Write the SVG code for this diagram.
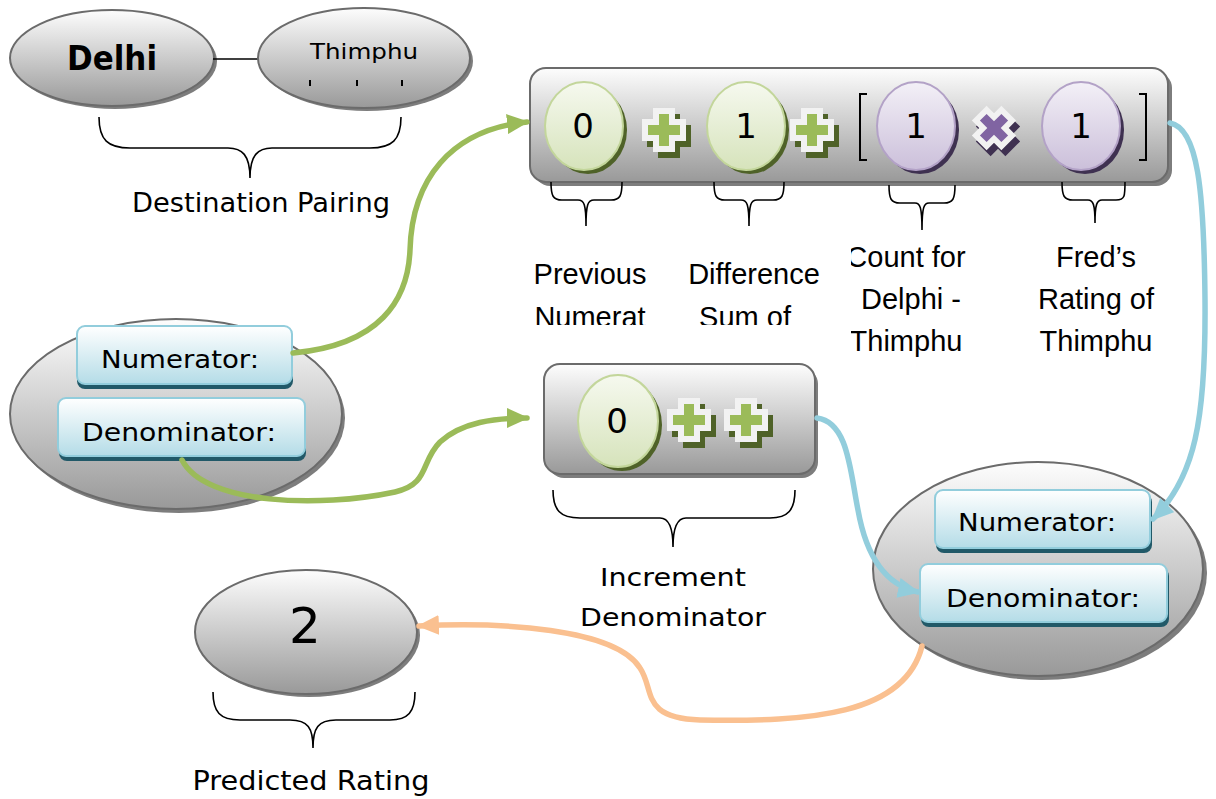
<svg xmlns="http://www.w3.org/2000/svg" width="1216" height="799" viewBox="0 0 1216 799">
<defs>
<linearGradient id="gGray" x1="0" y1="0" x2="0" y2="1"><stop offset="0" stop-color="#fdfdfd"/><stop offset="1" stop-color="#999999"/></linearGradient>
<linearGradient id="gBlue" x1="0" y1="0" x2="0" y2="1"><stop offset="0" stop-color="#ffffff"/><stop offset="1" stop-color="#b4dce7"/></linearGradient>
<linearGradient id="gGreen" x1="0" y1="0" x2="0" y2="1"><stop offset="0" stop-color="#f6f9ef"/><stop offset="1" stop-color="#d6e3bb"/></linearGradient>
<linearGradient id="gPurple" x1="0" y1="0" x2="0" y2="1"><stop offset="0" stop-color="#f3f0f7"/><stop offset="1" stop-color="#cbbfda"/></linearGradient>
<marker id="aGreen" viewBox="0 0 22 20" markerWidth="22" markerHeight="20" refX="20" refY="10" orient="auto" markerUnits="userSpaceOnUse"><path d="M0,0 L22,10 L0,20 z" fill="#9bbb59"/></marker>
<marker id="aBlue" viewBox="0 0 22 20" markerWidth="22" markerHeight="20" refX="20" refY="10" orient="auto" markerUnits="userSpaceOnUse"><path d="M0,0 L22,10 L0,20 z" fill="#92cddc"/></marker>
<marker id="aOrange" viewBox="0 0 22 20" markerWidth="22" markerHeight="20" refX="20" refY="10" orient="auto" markerUnits="userSpaceOnUse"><path d="M0,0 L22,10 L0,20 z" fill="#fac090"/></marker>
<polygon id="plusOuter" points="-11,-22 11,-22 11,-11 22,-11 22,11 11,11 11,22 -11,22 -11,11 -22,11 -22,-11 -11,-11"/>
<polygon id="plusInner" points="-5,-16 5,-16 5,-5 16,-5 16,5 5,5 5,16 -5,16 -5,5 -16,5 -16,-5 -5,-5"/>
<g id="plusG">
<use href="#plusOuter" fill="#4f6228" transform="translate(5,6)"/>
<use href="#plusOuter" fill="#f2f2f2"/>
<use href="#plusInner" fill="#9bbb59"/>
</g>
<g id="timesP">
<use href="#plusOuter" fill="#3f3151" transform="translate(4,6) rotate(45) scale(0.95)"/>
<use href="#plusOuter" fill="#f2f2f2" transform="rotate(45) scale(0.95)"/>
<use href="#plusInner" fill="#8064a2" transform="rotate(45) scale(0.95)"/>
</g>
<clipPath id="clipBottom"><rect x="0" y="0" width="1216" height="325"/></clipPath>
<clipPath id="clipLeft"><rect x="851" y="0" width="365" height="799"/></clipPath>
</defs>
<style>
.gray{fill:url(#gGray);stroke:#6b6b6b;stroke-width:2}
.gshadow{fill:#7d7d7d}
.blue{fill:url(#gBlue);stroke:#92cddc;stroke-width:2}
.bshadow{fill:#215968}
.green{fill:url(#gGreen);stroke:#c3d69b;stroke-width:2}
.greenS{fill:#4f6228}
.purple{fill:url(#gPurple);stroke:#b3a2c7;stroke-width:2}
.purpleS{fill:#3f3151}
.brace{fill:none;stroke:#000;stroke-width:1.6}
.t{font-family:"DejaVu Sans","Liberation Sans",sans-serif;fill:#000;text-anchor:middle}
.n{font-family:"Liberation Sans Narrow","Liberation Sans",sans-serif;fill:#000;text-anchor:middle;font-size:29px}
.num{font-family:"DejaVu Sans","Liberation Sans",sans-serif;fill:#000;text-anchor:middle;font-size:34px}
.conn{fill:none;stroke-width:5.5;stroke-linecap:round}
</style>

<g id="delhi">
<ellipse cx="115" cy="61" rx="102" ry="48" class="gshadow"/>
<ellipse cx="112" cy="58" rx="102" ry="48" class="gray"/>
<text x="112" y="70" class="t" font-size="33" font-weight="bold" textLength="90" lengthAdjust="spacingAndGlyphs">Delhi</text>
</g>
<line x1="213" y1="59" x2="259" y2="59" stroke="#000" stroke-width="1.6"/>
<g id="thimphu">
<ellipse cx="367" cy="61" rx="106" ry="50" class="gshadow"/>
<ellipse cx="364" cy="58" rx="106" ry="50" class="gray"/>
<text x="364" y="59" class="t" font-size="22" textLength="108" lengthAdjust="spacingAndGlyphs">Thimphu</text>
<g stroke="#000" stroke-width="2"><line x1="310" y1="80" x2="310" y2="86"/><line x1="357" y1="80" x2="357" y2="86"/><line x1="402" y1="80" x2="402" y2="86"/></g>
</g>
<g id="destPairing">
<path class="brace" d="M99,117 C99,140 108,148 130,148 L228,148 C242,148 250,155 250,178 C250,155 258,148 272,148 L370,148 C392,148 401,140 401,117"/>
<text x="261" y="212" class="t" font-size="26" textLength="258" lengthAdjust="spacingAndGlyphs">Destination Pairing</text>
</g>

<g id="numeratorBox">
<rect x="534" y="72" width="638" height="114" rx="16" class="gshadow"/>
<rect x="530" y="68" width="638" height="114" rx="16" class="gray"/>
<ellipse cx="588" cy="130" rx="39" ry="44" class="greenS"/>
<ellipse cx="584" cy="126" rx="39" ry="44" class="green"/>
<text x="583" y="138" class="num">0</text>
<use href="#plusG" x="664" y="130"/>
<ellipse cx="750" cy="130" rx="39" ry="44" class="greenS"/>
<ellipse cx="746" cy="126" rx="39" ry="44" class="green"/>
<text x="746" y="138" class="num">1</text>
<use href="#plusG" x="812" y="130"/>
<path d="M867,94 L860,94 L860,160 L867,160" fill="none" stroke="#000" stroke-width="2"/>
<ellipse cx="920" cy="130" rx="39" ry="44" class="purpleS"/>
<ellipse cx="916" cy="126" rx="39" ry="44" class="purple"/>
<text x="916" y="138" class="num">1</text>
<use href="#timesP" x="994" y="128"/>
<ellipse cx="1085" cy="130" rx="39" ry="44" class="purpleS"/>
<ellipse cx="1081" cy="126" rx="39" ry="44" class="purple"/>
<text x="1081" y="138" class="num">1</text>
<path d="M1139,94 L1146,94 L1146,160 L1139,160" fill="none" stroke="#000" stroke-width="2"/>
</g>

<g id="topLabels">
<path class="brace" d="M551,182 C551,196 553,200 562,200 L578,200 C584,200 586,204 586,226 C586,204 588,200 594,200 L611,200 C620,200 622,196 622,182"/>
<path class="brace" d="M714,182 C714,196 716,200 725,200 L741,200 C747,200 749,204 749,226 C749,204 751,200 757,200 L773,200 C782,200 784,196 784,182"/>
<path class="brace" d="M889,185 C889,199 891,203 900,203 L915,203 C920,203 922,207 922,230 C922,207 924,203 929,203 L944,203 C953,203 955,199 955,185"/>
<path class="brace" d="M1062,182 C1062,196 1064,200 1073,200 L1088,200 C1093,200 1095,204 1095,223 C1095,204 1097,200 1102,200 L1116,200 C1125,200 1125,196 1125,182"/>
<text x="590" y="284" class="n">Previous</text>
<text x="590" y="327" class="n" clip-path="url(#clipBottom)">Numerat</text>
<text x="754" y="284" class="n">Difference</text>
<text x="745" y="327" class="n" clip-path="url(#clipBottom)">Sum of</text>
<g clip-path="url(#clipLeft)">
<text x="906" y="267" class="n">Count for</text>
<text x="906" y="351" class="n">Thimphu</text>
</g>
<text x="911" y="309" class="n">Delphi -</text>
<text x="1096" y="267" class="n">Fred’s</text>
<text x="1096" y="309" class="n">Rating of</text>
<text x="1096" y="351" class="n">Thimphu</text>
</g>

<g id="sourceNode">
<ellipse cx="179" cy="418" rx="166" ry="95" class="gshadow"/>
<ellipse cx="176" cy="414" rx="166" ry="95" class="gray"/>
<rect x="77" y="330" width="216" height="59" rx="8" class="bshadow"/>
<rect x="77" y="326" width="215" height="58" rx="8" class="blue"/>
<text x="180" y="368" class="t" font-size="24" textLength="158" lengthAdjust="spacingAndGlyphs">Numerator:</text>
<rect x="59" y="402" width="247" height="59" rx="8" class="bshadow"/>
<rect x="58" y="398" width="247" height="58" rx="8" class="blue"/>
<text x="179" y="441" class="t" font-size="24" textLength="194" lengthAdjust="spacingAndGlyphs">Denominator:</text>
</g>

<g id="denominatorBox">
<rect x="548" y="368" width="270" height="110" rx="16" class="gshadow"/>
<rect x="544" y="364" width="271" height="110" rx="16" class="gray"/>
<ellipse cx="622" cy="425" rx="40" ry="46" class="greenS"/>
<ellipse cx="618" cy="421" rx="40" ry="46" class="green"/>
<text x="617" y="433" class="num">0</text>
<use href="#plusG" x="689" y="420"/>
<use href="#plusG" x="746" y="420"/>
<path class="brace" d="M553,490 C553,510 560,518 580,518 L660,518 C668,518 673,525 673,547 C673,525 678,518 686,518 L770,518 C788,518 795,510 795,490"/>
<text x="673" y="586" class="t" font-size="25" textLength="146" lengthAdjust="spacingAndGlyphs">Increment</text>
<text x="673" y="626" class="t" font-size="25" textLength="186" lengthAdjust="spacingAndGlyphs">Denominator</text>
</g>

<g id="targetNode">
<ellipse cx="1042" cy="573" rx="165" ry="107" class="gshadow"/>
<ellipse cx="1038" cy="569" rx="165" ry="107" class="gray"/>
<rect x="936" y="494" width="216" height="59" rx="8" class="bshadow"/>
<rect x="935" y="490" width="215" height="58" rx="8" class="blue"/>
<text x="1037" y="531" class="t" font-size="24" textLength="158" lengthAdjust="spacingAndGlyphs">Numerator:</text>
<rect x="921" y="568" width="248" height="59" rx="8" class="bshadow"/>
<rect x="920" y="564" width="247" height="58" rx="8" class="blue"/>
<text x="1043" y="607" class="t" font-size="24" textLength="194" lengthAdjust="spacingAndGlyphs">Denominator:</text>
</g>

<g id="predicted">
<ellipse cx="309" cy="635" rx="111" ry="62" class="gshadow"/>
<ellipse cx="306" cy="632" rx="111" ry="62" class="gray"/>
<text x="305" y="643" class="t" font-size="50">2</text>
<path class="brace" d="M213,692 C213,712 220,720 240,720 L290,720 C308,720 313,728 313,748 C313,728 318,720 336,720 L390,720 C408,720 415,712 415,692"/>
<text x="311" y="790" class="t" font-size="26" textLength="237" lengthAdjust="spacingAndGlyphs">Predicted Rating</text>
</g>

<g id="connectors">
<path class="conn" stroke="#9bbb59" marker-end="url(#aGreen)" d="M293,353 C380,345 408,300 410,250 C412,180 450,130 527,122"/>
<path class="conn" stroke="#9bbb59" marker-end="url(#aGreen)" d="M182,460 C205,505 320,508 395,492 C430,484 420,462 440,442 C462,422 495,418 527,418"/>
<path class="conn" stroke="#92cddc" marker-end="url(#aBlue)" d="M1170,123 C1198,128 1204,190 1205,300 C1206,420 1195,478 1153,519"/>
<path class="conn" stroke="#92cddc" marker-end="url(#aBlue)" d="M817,418 C848,422 850,470 858,510 C866,555 885,585 918,592"/>
<path class="conn" stroke="#fac090" marker-end="url(#aOrange)" d="M922,646 C905,715 810,722 700,720 C640,718 655,690 640,668 C615,628 500,622 419,626"/>
</g>
</svg>
